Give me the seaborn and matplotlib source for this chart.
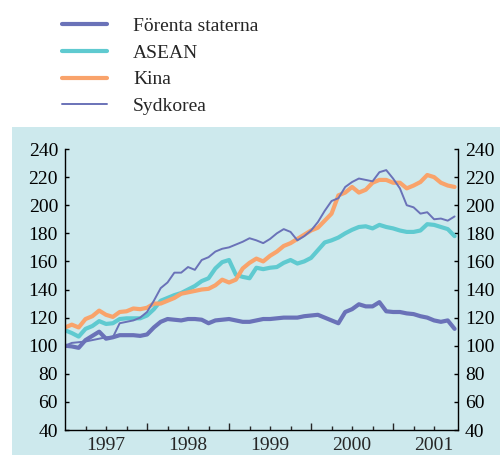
import matplotlib
matplotlib.use("Agg")
import matplotlib.pyplot as plt
import seaborn as sns
import pandas as pd
from matplotlib.patches import Rectangle
from matplotlib.ticker import FixedLocator, NullFormatter

# månadsindex, jan 1997 = 0 ... okt 2001 = 57
usa = [100, 99.5, 98.5, 104, 107, 110, 105, 106, 107.5, 107.5, 107.5, 107,
       108, 113, 117, 119, 118.5, 118, 119, 119, 118.5, 116, 118, 118.5,
       119, 118, 117, 117, 118, 119, 119, 119.5, 120, 120, 120, 121,
       121.5, 122, 120, 118, 116, 124, 126, 129.5, 128, 128, 131, 124.5,
       124, 124, 123, 122.5, 121, 120, 118, 117, 118, 112]
asean = [111, 109, 106.5, 112, 114, 117.5, 115.5, 116, 119, 119.5, 119.5, 119.5,
         121.5, 126, 132, 134, 136, 137.5, 140, 142.5, 146, 148, 155, 159.5,
         161, 150.5, 149, 148, 155.5, 154.5, 155.5, 156, 159, 161, 158.5, 160,
         162.5, 168, 173.5, 175, 177, 180, 182.5, 184.5, 185, 183.5, 186, 184.5,
         183.5, 182, 181, 181, 182, 186.5, 186, 184.5, 183, 178]
kina = [113, 115, 113, 119, 121, 125, 122, 120.5, 124, 124.5, 126.5, 126,
        127, 130, 130, 132, 134, 137, 138, 139, 140, 140.5, 143, 147,
        145, 147, 155, 159, 162, 160, 164, 167, 171, 173, 176, 179,
        182, 184, 189, 194, 207, 209, 213, 209, 211, 216, 218, 218,
        216, 216, 212, 214, 216.5, 221.5, 220, 216, 214, 213]
sydkorea = [100, 102, 102.5, 103, 104, 105, 106, 106, 116, 117, 118, 120,
            124, 132, 141, 145, 152, 152, 156, 154, 161, 163, 167, 169,
            170, 172, 174, 176.5, 175, 173, 176, 180, 183, 181, 175, 178,
            182, 188, 196, 203, 205, 213, 216.5, 219, 218, 217, 223.5, 225,
            219, 212, 200, 198.5, 194, 195, 190, 190.5, 189, 192]
years = ["1997", "1998", "1999", "2000", "2001"]
yticks = list(range(40, 241, 20))

df = pd.DataFrame({"m": range(len(usa)), "Förenta staterna": usa, "ASEAN": asean,
                   "Kina": kina, "Sydkorea": sydkorea})

sns.set_style("ticks")
plt.rcParams["font.family"] = ["Liberation Serif", "DejaVu Serif"]

fig = plt.figure(figsize=(5, 4.55), dpi=100)
bg = "#cde9ed"
fig.patches.append(Rectangle((12 / 500, 0), 488 / 500, 1 - 127 / 455,
                             transform=fig.transFigure, facecolor=bg,
                             edgecolor="none", zorder=-5))
ax = fig.add_axes([0.13, 0.0549, 0.786, 0.6176])
ax.set_facecolor("none")

blue = "#6a72b8"
stil = {"Förenta staterna": (blue, 3.0), "ASEAN": ("#5fcad0", 3.0),
        "Kina": ("#f9a36b", 3.0), "Sydkorea": (blue, 1.4)}
for namn, (farg, lw) in stil.items():
    sns.lineplot(data=df, x="m", y=namn, ax=ax, color=farg, linewidth=lw,
                 label=namn, legend=False)

ax.set_xlim(0, 57.5)
ax.set_ylim(40, 240)
ax.set_xlabel("")
ax.set_ylabel("")
ax.set_yticks(yticks)
ax.tick_params(axis="y", which="both", direction="in", length=3, width=1,
               left=True, right=True, labelleft=True, labelright=True,
               labelsize=14, pad=5, colors="black")
ax.xaxis.set_major_locator(FixedLocator([12, 24, 36, 48]))
ax.xaxis.set_major_formatter(NullFormatter())
ax.xaxis.set_minor_locator(FixedLocator([3, 6, 9, 15, 18, 21, 27, 30, 33, 39, 42, 45, 51, 54]))
ax.tick_params(axis="x", which="major", direction="in", length=5, width=1)
ax.tick_params(axis="x", which="minor", direction="in", length=3, width=1)
for i, y in enumerate(years):
    ax.text(6 + 12 * i, -0.025, y, transform=ax.get_xaxis_transform(),
            ha="center", va="top", fontsize=14)
ax.spines["top"].set_visible(False)
for s in ["left", "right", "bottom"]:
    ax.spines[s].set_color("black")
    ax.spines[s].set_linewidth(1)

handles, labels = ax.get_legend_handles_labels()
fig.legend(handles, labels, loc="upper left", bbox_to_anchor=(0.124, 0.962),
           frameon=False, fontsize=14, handlelength=2.3, handletextpad=1.35,
           labelspacing=0.47, borderpad=0, borderaxespad=0)

fig.savefig("out.png", dpi=100)
